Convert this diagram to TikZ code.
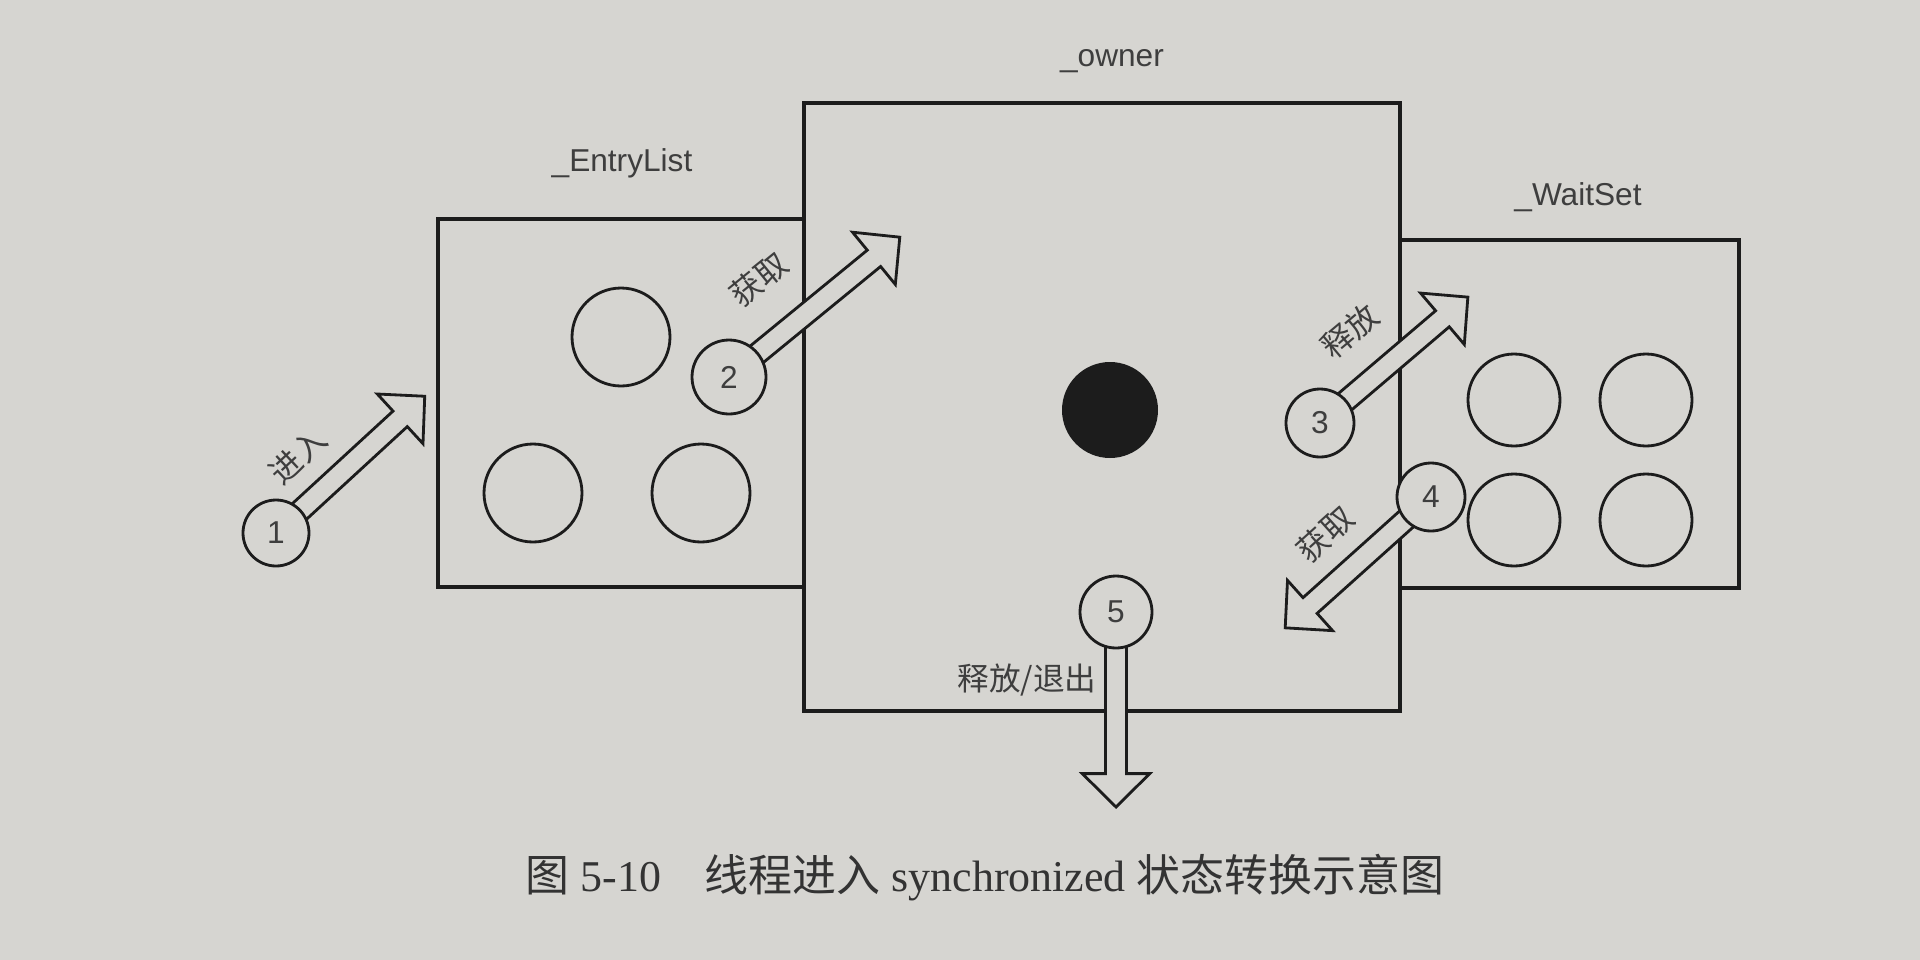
\documentclass[tikz,border=0pt]{standalone}
\usepackage{fontspec}
\setmainfont{Liberation Serif}
\setsansfont{Liberation Sans}
\newfontfamily\cjk{Noto Sans CJK SC}
\usetikzlibrary{calc}
\pgfdeclarelayer{bottom}
\pgfdeclarelayer{arrows}
\pgfsetlayers{bottom,arrows,main}
\definecolor{paper}{RGB}{214,213,209}
\definecolor{ink}{RGB}{28,28,28}
\tikzset{>=stealth}
\tikzset{
  box/.style={draw=ink, line width=1pt},
  slot/.style={circle, draw=ink, line width=0.8pt, fill=paper, minimum size=9.8mm, inner sep=0pt},
  num/.style={circle, draw=ink, line width=0.8pt, fill=paper, minimum size=7mm, inner sep=0pt, text=ink!85, font=\sffamily\fontsize{9}{9}\selectfont},
  boxtitle/.style={text=ink!85, font=\sffamily\fontsize{9}{9}\selectfont},
  act/.style={text=ink!85, font=\cjk\fontsize{9}{9}\selectfont, inner sep=0pt},
  fatarrow/.pic={
    \draw[ink, line width=0.8pt, fill=paper, line join=miter]
      (0pt,-3pt) -- (#1-9.5pt,-3pt) -- (#1-9.5pt,-9.6pt) -- (#1,0pt)
      -- (#1-9.5pt,9.6pt) -- (#1-9.5pt,3pt) -- (0pt,3pt) -- cycle;
  }
}
% hollow arrow from the centre of a node to a tip point
\newcommand{\hollowarrow}[2]{
  \path let \p1=(#1.center), \p2=(#2),
    \n1={atan2(\y2-\y1,\x2-\x1)}, \n2={veclen(\x2-\x1,\y2-\y1)}
    in (\p1) pic[rotate=\n1] {fatarrow=\n2};
}

\begin{document}
\begin{tikzpicture}[x=0.1mm, y=-0.1mm]
  \useasboundingbox (0,0) rectangle (1920,960);
  \begin{pgfonlayer}{bottom}
    \fill[paper] (0,0) rectangle (1920,960);
    \draw[box] (438,219) rectangle (804,587);
    \draw[box] (1400,240) rectangle (1739,588);
    \draw[box] (804,103) rectangle (1400,711);
  \end{pgfonlayer}

  % box titles
  \node[boxtitle] (entrytitle) at (622,163) {\_EntryList};
  \node[boxtitle] (ownertitle) at (1112,61) {\_owner};
  \node[boxtitle] (waittitle) at (1578,197) {\_WaitSet};

  % threads in the queues
  \node[slot] (e1) at (621,337) {};
  \node[slot] (e2) at (533,493) {};
  \node[slot] (e3) at (701,493) {};
  \node[slot, minimum size=9.2mm] (w1) at (1514,400) {};
  \node[slot, minimum size=9.2mm] (w2) at (1646,400) {};
  \node[slot, minimum size=9.2mm] (w3) at (1514,520) {};
  \node[slot, minimum size=9.2mm] (w4) at (1646,520) {};
  \node[circle, fill=ink, minimum size=9.6mm, inner sep=0pt] (holder) at (1110,410) {};

  % numbered steps
  \node[num, minimum size=6.6mm] (s1) at (276,533) {1};
  \node[num, minimum size=7.4mm] (s2) at (729,377) {2};
  \node[num, minimum size=6.8mm] (s3) at (1320,423) {3};
  \node[num, minimum size=6.8mm] (s4) at (1431,497) {4};
  \node[num, minimum size=7.2mm] (s5) at (1116,612) {5};

  \coordinate (t1) at (425,396);
  \coordinate (t2) at (900,237);
  \coordinate (t3) at (1468,297);
  \coordinate (t4) at (1285,628);
  \coordinate (t5) at (1116,807);

  \begin{pgfonlayer}{arrows}
    \hollowarrow{s1}{t1}
    \hollowarrow{s2}{t2}
    \hollowarrow{s3}{t3}
    \hollowarrow{s4}{t4}
    \hollowarrow{s5}{t5}
  \end{pgfonlayer}

  \node[act, rotate=43] (a1) at (298,456) {进入};
  \node[act, rotate=39] (a2) at (759,279) {获取};
  \node[act, rotate=40] (a3) at (1350,331) {释放};
  \node[act, rotate=42] (a4) at (1325,534) {获取};
  \node[act, anchor=east] (a5) at (1097,680) {释放/退出};

  \node[text=ink!90] (caption) at (985,878)
    {\fontsize{12.5}{12.5}\selectfont{\cjk 图} 5-10\quad{\cjk 线程进入} synchronized {\cjk 状态转换示意图}};
\end{tikzpicture}
\end{document}
